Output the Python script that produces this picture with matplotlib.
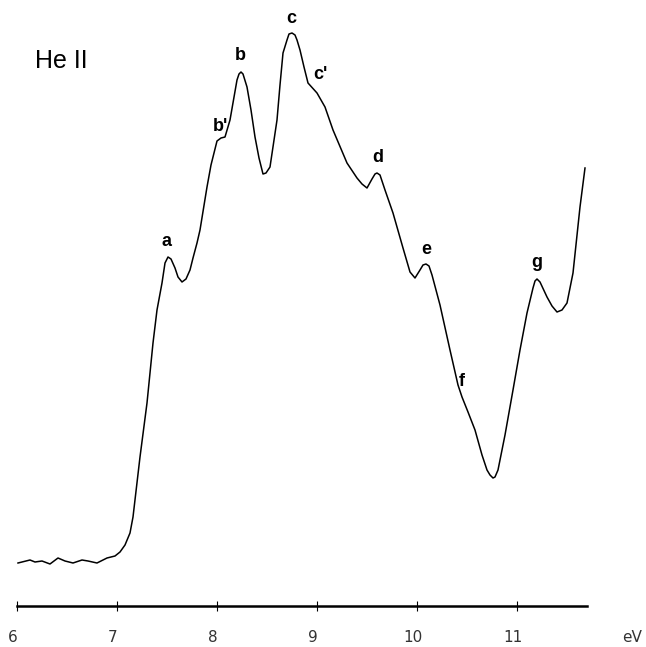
import matplotlib
matplotlib.use("Agg")
import matplotlib.pyplot as plt

# He II photoelectron spectrum
energy = [6.01, 6.13, 6.18, 6.25, 6.33, 6.41, 6.48, 6.56, 6.65, 6.71, 6.80, 6.90,
          6.98, 7.03, 7.08, 7.13, 7.16, 7.23, 7.30, 7.36, 7.40, 7.45, 7.48, 7.51,
          7.54, 7.58, 7.61, 7.65, 7.69, 7.73, 7.76, 7.80, 7.83, 7.90, 7.94, 8.00,
          8.04, 8.08, 8.13, 8.20, 8.22, 8.24, 8.26, 8.30, 8.34, 8.38, 8.42, 8.46,
          8.49, 8.53, 8.60, 8.63, 8.66, 8.70, 8.72, 8.75, 8.78, 8.80, 8.83, 8.87,
          8.91, 9.00, 9.08, 9.16, 9.30, 9.40, 9.45, 9.50, 9.55, 9.58, 9.60, 9.63,
          9.68, 9.76, 9.86, 9.93, 9.98, 10.03, 10.06, 10.09, 10.12, 10.15, 10.23,
          10.33, 10.41, 10.45, 10.51, 10.58, 10.65, 10.70, 10.73, 10.76, 10.78,
          10.81, 10.88, 10.96, 11.03, 11.10, 11.16, 11.18, 11.20, 11.23, 11.30,
          11.35, 11.40, 11.45, 11.50, 11.56, 11.63, 11.68]
counts = [8.6, 9.2, 8.8, 9.0, 8.4, 9.6, 9.0, 8.6, 9.2, 9.0, 8.6, 9.6,
          10.0, 10.8, 12.2, 14.6, 17.8, 29.8, 40.6, 52.6, 59.2, 64.6, 68.6, 69.8,
          69.4, 67.6, 65.8, 64.8, 65.4, 67.2, 69.6, 72.6, 75.2, 83.8, 88.2, 93.0,
          93.6, 93.8, 97.2, 105.2, 106.4, 106.8, 106.4, 103.8, 99.2, 93.8, 89.6, 86.4,
          86.6, 87.8, 97.2, 104.2, 110.6, 113.2, 114.4, 114.6, 114.2, 113.2, 111.2, 107.8,
          104.6, 102.6, 99.8, 95.2, 88.6, 85.6, 84.4, 83.6, 85.4, 86.4, 86.6, 86.2,
          83.2, 78.6, 71.6, 66.8, 65.6, 67.2, 68.2, 68.4, 68.0, 66.2, 60.2,
          51.2, 44.2, 41.8, 38.8, 35.2, 30.2, 27.2, 26.2, 25.6, 25.8,
          27.2, 34.2, 43.2, 51.2, 58.6, 63.6, 65.0, 65.4, 64.8, 61.8,
          60.0, 58.8, 59.2, 60.6, 66.6, 79.8, 87.6]

# band labels and where they sit
band_names = ["a", "b'", "b", "c", "c'", "d", "e", "f", "g"]
band_x = [7.50, 8.03, 8.23, 8.74, 9.03, 9.61, 10.09, 10.45, 11.20]
band_y = [73.0, 96.0, 110.2, 117.6, 106.4, 89.8, 71.4, 45.0, 68.8]

tick_vals = [6, 7, 8, 9, 10, 11]
tick_text = ["6", "7", "8", "9", "10", "11"]

fig = plt.figure(figsize=(6.46, 6.47), dpi=100)
ax = fig.add_axes([17 / 646, 41 / 647, 570 / 646, 606 / 647])

ax.plot(energy, counts, color="black", lw=1.1)

ax.set_xlim(6, 11.7)
ax.set_ylim(0, 121.2)

for side in ["left", "right", "top"]:
    ax.spines[side].set_visible(False)
ax.spines["bottom"].set_linewidth(1.8)
ax.set_yticks([])
ax.set_xticks(tick_vals)
ax.set_xticklabels([])
ax.tick_params(axis="x", direction="inout", length=7, width=0.8)

for v, t in zip(tick_vals, tick_text):
    ax.text(v - 0.04, -32 / 606, t, transform=ax.get_xaxis_transform(),
            ha="center", va="center", fontsize=11, color="#333333")
ax.text(12.15, -32 / 606, "eV", transform=ax.get_xaxis_transform(),
        ha="center", va="center", fontsize=11, color="#333333", clip_on=False)

for name, x, y in zip(band_names, band_x, band_y):
    ax.text(x, y, name, ha="center", va="center", fontsize=13,
            fontweight="bold", family="Liberation Sans")

ax.text(0.032, 0.90, "He II", transform=ax.transAxes, fontsize=18,
        ha="left", va="center", family="Liberation Sans")

fig.savefig("out.png", dpi=100)
